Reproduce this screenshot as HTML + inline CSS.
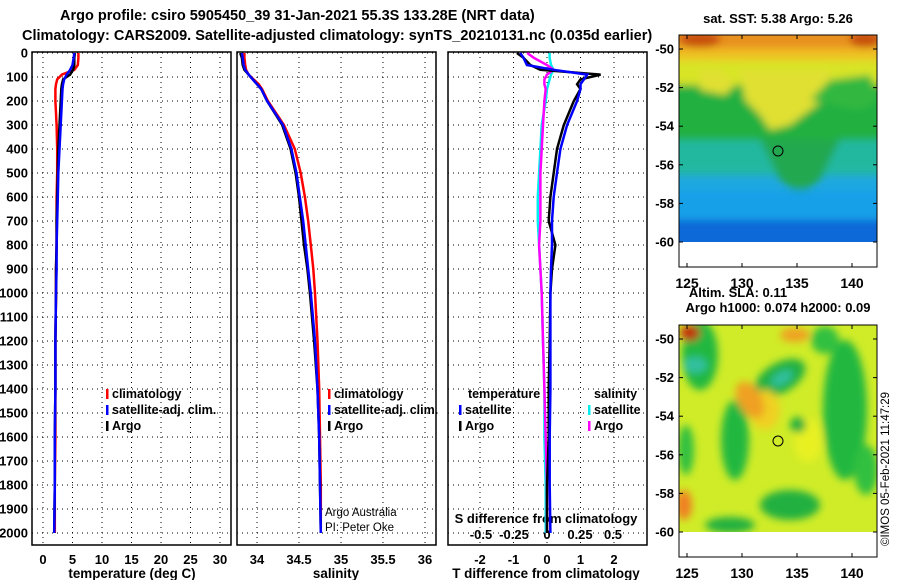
<!DOCTYPE html>
<html><head><meta charset="utf-8"><style>
body{margin:0;background:#fff}
svg{display:block;font-family:"Liberation Sans",sans-serif;font-weight:bold}
</style></head><body>
<svg id="c" width="900" height="580" viewBox="0 0 900 580">
<defs>
<filter id="bl" x="-20%" y="-20%" width="140%" height="140%"><feGaussianBlur stdDeviation="4"/></filter>
<clipPath id="m1c"><rect x="679" y="35" width="198" height="207"/></clipPath>
<clipPath id="m2c"><rect x="679" y="325" width="198" height="207"/></clipPath>
</defs>
<text x="60" y="20" font-size="14.5">Argo profile: csiro 5905450_39 31-Jan-2021 55.3S 133.28E (NRT data)</text>
<text x="22" y="40" font-size="14.5">Climatology: CARS2009. Satellite-adjusted climatology: synTS_20210131.nc (0.035d earlier)</text>

<g>
<g clip-path="url(#m1c)">
<rect x="679" y="35" width="198" height="207" fill="#20a8e0"/>
<rect x="679" y="35" width="198" height="20" fill="#e89020"/>
<g filter="url(#bl)">
<rect x="670" y="48" width="220" height="22" fill="#f0c020"/>
<rect x="670" y="60" width="220" height="30" fill="#d8e428"/>
<rect x="670" y="85" width="220" height="65" fill="#20b040"/>
<polygon points="740,70 790,70 830,70 830,95 810,110 790,125 770,130 760,115 745,100" fill="#e0e030"/>
<polygon points="700,70 720,70 735,85 725,95 700,90" fill="#e0e030"/>
<polygon points="810,100 830,80 870,75 880,100 860,110 835,105" fill="#30b840"/>
<rect x="670" y="140" width="220" height="35" fill="#20b8a0"/>
<polygon points="760,140 840,140 820,180 800,195 780,180" fill="#20a850"/>
<rect x="670" y="190" width="220" height="30" fill="#18a0e8"/>
<rect x="670" y="220" width="220" height="30" fill="#1068d8"/>
<ellipse cx="700" cy="40" rx="20" ry="8" fill="#c85010"/>
<ellipse cx="865" cy="40" rx="15" ry="8" fill="#c85010"/>
</g>
</g>
<circle cx="778" cy="151" r="5" fill="none" stroke="#000"/>
<rect x="679" y="35" width="198" height="232" fill="none" stroke="#000"/>
<text x="778" y="23" font-size="13" text-anchor="middle">sat. SST: 5.38 Argo: 5.26</text>
</g>

<g>
<g clip-path="url(#m2c)">
<rect x="679" y="325" width="198" height="207" fill="#d0ec28"/>
<g filter="url(#bl)">
<ellipse cx="700" cy="355" rx="18" ry="35" fill="#20b840"/>
<ellipse cx="780" cy="378" rx="28" ry="15" fill="#20b040" transform="rotate(-30 780 378)"/>
<ellipse cx="782" cy="378" rx="12" ry="6" fill="#30c0a0" transform="rotate(-30 782 378)"/>
<ellipse cx="695" cy="365" rx="12" ry="8" fill="#30c0a0"/>
<ellipse cx="845" cy="410" rx="22" ry="70" fill="#20b840"/>
<ellipse cx="825" cy="340" rx="14" ry="14" fill="#30c040"/>
<ellipse cx="735" cy="440" rx="14" ry="40" fill="#20b840"/>
<ellipse cx="790" cy="505" rx="30" ry="15" fill="#20b040"/>
<ellipse cx="730" cy="525" rx="25" ry="8" fill="#20b040"/>
<ellipse cx="686" cy="450" rx="8" ry="25" fill="#30c040"/>
<ellipse cx="808" cy="440" rx="14" ry="22" fill="#e8f020"/>
<ellipse cx="765" cy="410" rx="15" ry="20" fill="#f0d020"/>
<ellipse cx="750" cy="400" rx="12" ry="20" fill="#f0a020" transform="rotate(-30 750 400)"/>
<ellipse cx="684" cy="505" rx="8" ry="15" fill="#f08020"/>
<ellipse cx="795" cy="335" rx="15" ry="7" fill="#f0a020"/>
<ellipse cx="798" cy="425" rx="8" ry="8" fill="#20b040"/>
<ellipse cx="690" cy="333" rx="10" ry="8" fill="#c03010"/>
<ellipse cx="866" cy="470" rx="12" ry="25" fill="#30c040"/>
</g>
</g>
<circle cx="778" cy="441" r="5" fill="none" stroke="#000"/>
<rect x="679" y="325" width="198" height="232" fill="none" stroke="#000"/>
<text x="738" y="297" font-size="13" text-anchor="middle">Altim. SLA: 0.11</text>
<text x="778" y="312" font-size="13" text-anchor="middle">Argo h1000: 0.074 h2000: 0.09</text>
</g>
<text transform="translate(889,546) rotate(-90)" font-size="11.5" font-weight="normal">©IMOS 05-Feb-2021 11:47:29</text>
<g id="dyn"></g>
</svg>
<script>
const depths=[0,20,50,70,90,110,130,150,200,300,400,500,600,700,800,900,1000,1200,1400,1600,1800,2000];
const tempArgo=[5.4,5.3,5.3,5.1,4.6,3.4,3.2,3.1,3.0,2.8,2.6,2.5,2.4,2.3,2.3,2.2,2.2,2.1,2.1,2.0,2.0,1.9];
const tempClim=[6.0,6.0,5.9,5.3,3.2,2.4,2.2,2.1,2.1,2.3,2.4,2.4,2.3,2.3,2.3,2.2,2.2,2.1,2.1,2.1,2.0,2.0];
const tempSat=[5.3,5.2,5.0,4.6,4.0,3.6,3.4,3.3,3.2,3.0,2.8,2.6,2.5,2.4,2.3,2.3,2.2,2.1,2.1,2.0,2.0,1.9];
const salArgo=[33.8,33.82,33.83,33.85,33.9,33.95,34.0,34.05,34.12,34.3,34.4,34.46,34.5,34.53,34.56,34.6,34.63,34.68,34.72,34.74,34.75,34.76];
const salClim=[33.85,33.85,33.86,33.87,33.9,33.96,34.02,34.06,34.13,34.32,34.45,34.52,34.57,34.61,34.64,34.67,34.69,34.72,34.74,34.75,34.76,34.76];
const salSat=[33.82,33.83,33.84,33.86,33.9,33.95,34.0,34.05,34.12,34.31,34.41,34.47,34.51,34.55,34.58,34.61,34.64,34.69,34.72,34.74,34.75,34.76];
const dTArgo=[-0.9,-0.7,-0.5,-0.2,1.6,1.0,0.9,1.0,0.8,0.5,0.3,0.2,0.1,0.05,0.25,0.15,0.1,0.08,0.05,0.05,0.0,0.0];
const dTSat=[-0.8,-0.7,-0.6,0.2,1.2,1.1,1.0,1.0,0.9,0.6,0.4,0.3,0.2,0.15,0.15,0.12,0.1,0.1,0.1,0.08,0.08,0.1];
const dSArgo=[-0.15,-0.1,0,0.05,0,-0.02,-0.02,-0.01,-0.02,-0.03,-0.04,-0.05,-0.05,-0.05,-0.06,-0.05,-0.04,-0.03,-0.02,-0.01,0,0];
const dSSat=[0.02,0.02,0.03,0.05,0.03,0.02,0.01,0,-0.01,-0.04,-0.05,-0.06,-0.07,-0.07,-0.06,-0.05,-0.04,-0.03,-0.02,-0.02,-0.01,-0.01];
const depthTicks=[0,100,200,300,400,500,600,700,800,900,1000,1100,1200,1300,1400,1500,1600,1700,1800,1900,2000];
const tempTicks=[0,5,10,15,20,25,30];
const salTicks=[34,34.5,35,35.5,36];
const dTTicks=[-2,-1,0,1,2];
const dSTicks=[-0.5,-0.25,0,0.25,0.5];
const latTicks=[-50,-52,-54,-56,-58,-60];
const lonTicks=[125,130,135,140];

const NS='http://www.w3.org/2000/svg';
const g=document.getElementById('dyn');
function el(t,a,p){const e=document.createElementNS(NS,t);for(const k in a)e.setAttribute(k,a[k]);(p||g).appendChild(e);return e;}
function txt(x,y,s,a,p){const e=el('text',Object.assign({x:x,y:y,'font-size':12.5},a||{}),p);e.textContent=s;return e;}
const yD=d=>53+d*0.24;
const PT=545;
const panels=[{x0:32,x1:231,fx:v=>43+v*5.9},{x0:237,x1:436,fx:v=>257+(v-34)*84},{x0:448,x1:647,fx:v=>547+v*33.5}];
const fS=v=>547+v*132;
const lonX=v=>687+(v-125)*11;
const latY=(v,off)=>49+off+(-50-v)*19.3;

panels.forEach((p,i)=>{
  const pg=el('g',{});
  
  
  depthTicks.forEach(d=>{
    const l=el('line',{x1:p.x0,x2:p.x1,y1:yD(d),y2:yD(d),stroke:'#000','stroke-dasharray':'1 4'},pg);
    
    
  });
  const ticks=i==0?tempTicks:i==1?salTicks:dTTicks;
  ticks.forEach(t=>{
    const x=p.fx(t);
    const l=el('line',{x1:x,x2:x,y1:52,y2:PT,stroke:'#000','stroke-dasharray':'1 4'},pg);
    
    
    const tt=txt(x,564,String(t),{'text-anchor':'middle','font-size':13},pg);
    
    
  });
  const r=el('rect',{x:p.x0,y:52,width:p.x1-p.x0,height:PT-52,fill:'none',stroke:'#000','stroke-width':1.5},pg);
  
  
});
depthTicks.forEach(d=>{
  const t=txt(28,yD(d)+4.5,String(d),{'text-anchor':'end','font-size':13});
  
  
});
let t;
t=txt(132,578,'temperature (deg C)',{'text-anchor':'middle','font-size':13.4});
t=txt(336,578,'salinity',{'text-anchor':'middle','font-size':13.4});
t=txt(546,578,'T difference from climatology',{'text-anchor':'middle','font-size':13.4});
t=txt(546,523,'S difference from climatology',{'text-anchor':'middle','font-size':13});
dSTicks.forEach(v=>{const e=txt(fS(v),539,String(v),{'text-anchor':'middle','font-size':13});});

function line(vals,fx,col,name){
  let d='';
  vals.forEach((v,i)=>{d+=(i?'L':'M')+fx(v).toFixed(1)+','+yD(depths[i]).toFixed(1);});
  const e=el('path',{d:d,fill:'none',stroke:col,'stroke-width':2.5});
  
  
}
const P=panels;
line(tempClim,P[0].fx,'#f00','temp-climatology-line');
line(tempArgo,P[0].fx,'#000','temp-argo-line');
line(tempSat,P[0].fx,'#00f','temp-satellite-line');
line(salClim,P[1].fx,'#f00','sal-climatology-line');
line(salArgo,P[1].fx,'#000','sal-argo-line');
line(salSat,P[1].fx,'#00f','sal-satellite-line');
line(dSSat,fS,'#0ee','sdiff-satellite-line');
line(dSArgo,fS,'#f0f','sdiff-argo-line');
line(dTArgo,P[2].fx,'#000','tdiff-argo-line');
line(dTSat,P[2].fx,'#00f','tdiff-satellite-line');

function leg(x,y,col,label,name){
  const r=el('rect',{x:x,y:y-9,width:2.5,height:10,fill:col});
  
  
  const e=txt(x+6,y,label);
  
  
}
[[0,'#f00','climatology'],[1,'#00f','satellite-adj. clim.'],[2,'#000','Argo']].forEach(a=>{
  leg(106,398+a[0]*16,a[1],a[2],'legend-temp-'+a[0]);
  leg(328,398+a[0]*16,a[1],a[2],'legend-sal-'+a[0]);
});
t=txt(468,398,'temperature');
t=txt(594,398,'salinity');
leg(459,414,'#00f','satellite','legend-tdiff-satellite');
leg(459,430,'#000','Argo','legend-tdiff-argo');
leg(588,414,'#0ee','satellite','legend-sdiff-satellite');
leg(588,430,'#f0f','Argo','legend-sdiff-argo');
t=txt(325,516,'Argo Australia',{'font-weight':'normal','font-size':11.5});
t=txt(325,531,'PI: Peter Oke',{'font-weight':'normal','font-size':11.5});

[0,290].forEach((off,mi)=>{
  latTicks.forEach(v=>{
    const y=latY(v,off);
    const e=txt(674,y+4.5,String(v),{'text-anchor':'end','font-size':13});
    
    
    el('line',{x1:679,x2:683,y1:y,y2:y,stroke:'#000'});
    el('line',{x1:873,x2:877,y1:y,y2:y,stroke:'#000'});
  });
  lonTicks.forEach(v=>{
    const x=lonX(v);
    const e=txt(x,288+off,String(v),{'text-anchor':'middle','font-size':14});
    
    
    el('line',{x1:x,x2:x,y1:35+off,y2:39+off,stroke:'#000'});
    el('line',{x1:x,x2:x,y1:263+off,y2:267+off,stroke:'#000'});
  });
});
</script>
</body></html>
